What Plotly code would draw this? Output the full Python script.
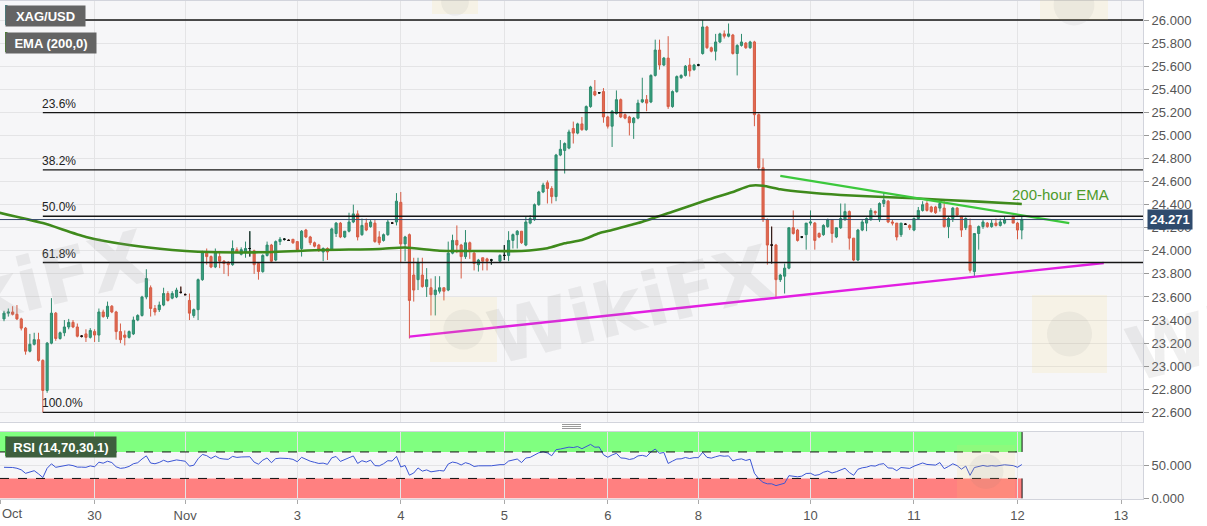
import plotly.graph_objects as go


# ---------- DATA (hourly XAG/USD bars) ----------

opens = [
    23.41, 23.46, 23.47, 23.45, 23.41, 23.33, 23.13, 23.19, 23.23, 23.05,
    22.79, 23.20, 23.46, 23.24, 23.29, 23.34, 23.38, 23.34, 23.26, 23.28,
    23.25, 23.30, 23.27, 23.47, 23.43, 23.52, 23.47, 23.30, 23.27, 23.25,
    23.28, 23.40, 23.44, 23.60, 23.68, 23.50, 23.49, 23.53, 23.63, 23.59,
    23.60, 23.64, 23.62, 23.57, 23.44, 23.49, 23.75, 23.98, 23.95, 23.86,
    23.95, 23.91, 23.90, 23.88, 24.01, 23.97, 23.99, 24.02, 24.00, 23.89,
    23.82, 23.96, 24.05, 23.92, 24.08, 24.10, 24.09, 24.10, 24.08, 24.02,
    24.18, 24.12, 24.07, 24.05, 23.99, 24.02, 24.01, 24.15, 24.24, 24.12,
    24.17, 24.25, 24.32, 24.14, 24.24, 24.21, 24.24, 24.12, 24.09, 24.14,
    24.24, 24.25, 24.42, 24.06, 24.14, 23.79, 23.75, 23.79, 23.69, 23.68,
    23.62, 23.65, 23.68, 23.66, 23.98, 24.09, 24.05, 23.95, 24.07, 23.98,
    23.88, 23.94, 23.93, 23.92, None, 23.91, 23.96, 23.96, 24.09, 24.14,
    24.17, 24.05, 24.24, 24.27, 24.40, 24.51, 24.59, 24.54, 24.47, 24.83,
    24.87, 24.89, 25.06, 25.02, 25.10, 25.05, 25.25, 25.38, 25.37, 25.38,
    25.16, 25.08, 25.19, 25.31, 25.18, 25.16, 25.11, 25.15, 25.29, 25.31,
    25.29, 25.52, 25.74, 25.61, 25.67, 25.25, 25.38, 25.50, 25.52, 25.61,
    25.57, 25.61, 25.71, 25.94, 25.76, 25.73, 25.81, 25.88, 25.86, 25.87,
    25.71, 25.78, 25.80, 25.76, 25.81, 25.18, 24.72, 24.27, 24.05, 24.05,
    23.75, 23.78, 23.85, 24.20, 24.18, 24.12, 24.14, 24.24, 24.24, 24.15,
    24.14, 24.21, 24.27, 24.12, 24.20, 24.27, 24.34, 24.11, 23.92, 24.18,
    24.24, 24.27, 24.34, 24.27, 24.41, 24.43, 24.25, 24.24, 24.14, 24.23,
    24.22, 24.18, 24.28, 24.35, 24.41, 24.38, 24.38, 24.37, 24.37, 24.21,
    24.28, 24.37, 24.30, 24.20, 24.22, 23.82, 24.15, 24.21, 24.24, 24.21,
    24.24, 24.22, 24.24, None, 24.30, 24.24, 24.18,
]

highs = [
    23.48, 23.50, 23.52, 23.53, 23.42, 23.34, 23.28, 23.29, 23.29, 23.06,
    23.21, 23.59, 23.47, 23.30, 23.40, 23.41, 23.40, 23.37, 23.27, 23.32,
    23.33, 23.32, 23.50, 23.49, 23.56, 23.53, 23.48, 23.37, 23.31, 23.31,
    23.43, 23.45, 23.61, 23.84, 23.70, 23.53, 23.56, 23.68, 23.65, 23.65,
    23.68, 23.69, 23.63, 23.63, 23.50, 23.76, 24.00, 24.02, 23.96, 24.02,
    23.99, 23.92, 23.91, 24.09, 24.03, 24.03, 24.08, 24.17, 24.01, 23.90,
    23.97, 24.08, 24.06, 24.09, 24.12, 24.11, 24.10, 24.10, 24.08, 24.18,
    24.19, 24.13, 24.08, 24.06, 24.03, 24.03, 24.20, 24.25, 24.25, 24.17,
    24.33, 24.40, 24.35, 24.28, 24.28, 24.27, 24.27, 24.17, 24.15, 24.27,
    24.25, 24.50, 24.51, 24.13, 24.15, 23.94, 23.94, 23.94, 23.85, 23.76,
    23.78, 23.78, 23.68, 24.08, 24.14, 24.22, 24.06, 24.18, 24.08, 23.99,
    23.93, 23.94, 23.94, 23.93, None, 23.97, 24.05, 24.17, 24.15, 24.18,
    24.17, 24.30, 24.31, 24.41, 24.52, 24.59, 24.61, 24.56, 24.84, 24.96,
    24.94, 25.05, 25.12, 25.11, 25.16, 25.26, 25.43, 25.48, 25.37, 25.41,
    25.17, 25.22, 25.39, 25.32, 25.19, 25.17, 25.16, 25.31, 25.50, 25.35,
    25.53, 25.83, 25.83, 25.68, 25.86, 25.39, 25.52, 25.53, 25.61, 25.67,
    25.62, 25.62, 26.00, 25.95, 25.77, 25.88, 25.89, 25.91, 25.97, 25.88,
    25.79, 25.88, 25.81, 25.82, 25.82, 25.19, 24.80, 24.28, 24.21, 24.06,
    23.80, 23.89, 24.20, 24.35, 24.19, 24.12, 24.24, 24.35, 24.25, 24.16,
    24.23, 24.28, 24.27, 24.20, 24.41, 24.41, 24.35, 24.11, 24.19, 24.27,
    24.29, 24.37, 24.35, 24.42, 24.50, 24.44, 24.27, 24.24, 24.24, 24.24,
    24.23, 24.29, 24.38, 24.43, 24.43, 24.39, 24.39, 24.43, 24.43, 24.30,
    24.38, 24.38, 24.30, 24.29, 24.28, 24.15, 24.22, 24.27, 24.25, 24.27,
    24.28, 24.28, 24.30, None, 24.30, 24.25, 24.30,
]

lows = [
    23.39, 23.43, 23.44, 23.40, 23.31, 23.10, 23.12, 23.18, 23.04, 22.60,
    22.77, 23.19, 23.22, 23.23, 23.26, 23.32, 23.33, 23.25, 23.25, 23.21,
    23.24, 23.21, 23.21, 23.42, 23.41, 23.46, 23.23, 23.20, 23.18, 23.24,
    23.27, 23.39, 23.43, 23.58, 23.43, 23.44, 23.47, 23.52, 23.56, 23.58,
    23.59, 23.63, 23.62, 23.40, 23.42, 23.40, 23.74, 23.88, 23.85, 23.85,
    23.85, 23.80, 23.78, 23.87, 23.98, 23.96, 23.94, 23.95, 23.80, 23.75,
    23.81, 23.95, 23.90, 23.91, 24.05, 24.09, 24.09, 24.06, 23.99, 23.95,
    24.11, 24.05, 24.03, 23.99, 23.91, 23.92, 24.00, 24.12, 24.11, 24.11,
    24.16, 24.24, 24.09, 24.13, 24.17, 24.20, 24.07, 24.05, 24.08, 24.13,
    24.24, 24.22, 23.90, 23.91, 23.24, 23.56, 23.66, 23.68, 23.60, 23.44,
    23.44, 23.63, 23.57, 23.65, 23.97, 23.98, 23.76, 23.93, 23.93, 23.83,
    23.82, 23.83, 23.83, 23.88, None, 23.90, 23.92, 23.91, 24.02, 24.02,
    24.06, 24.04, 24.23, 24.26, 24.39, 24.50, 24.41, 24.41, 24.43, 24.82,
    24.67, 24.88, 24.93, 25.01, 25.04, 25.04, 25.24, 25.34, 25.36, 25.11,
    25.06, 24.90, 25.18, 25.15, 25.14, 25.00, 24.97, 25.14, 25.28, 25.21,
    25.28, 25.51, 25.57, 25.60, 25.23, 25.24, 25.37, 25.49, 25.51, 25.51,
    25.56, 25.60, 25.70, 25.75, 25.72, 25.65, 25.80, 25.84, 25.85, 25.70,
    25.52, 25.77, 25.75, 25.75, 25.08, 24.70, 24.25, 23.88, 23.89, 23.60,
    23.73, 23.63, 23.84, 24.14, 24.08, 24.11, 24.01, 24.22, 24.01, 24.11,
    24.13, 24.20, 24.07, 24.11, 24.19, 24.26, 24.01, 23.91, 23.91, 24.17,
    24.17, 24.26, 24.31, 24.25, 24.38, 24.24, 24.22, 24.09, 24.12, 24.23,
    24.18, 24.17, 24.27, 24.34, 24.34, 24.33, 24.32, 24.34, 24.20, 24.11,
    24.25, 24.30, 24.12, 24.18, 23.81, 23.78, 24.01, 24.19, 24.20, 24.20,
    24.21, 24.21, 24.23, None, 24.24, 24.10, 24.10,
]

closes = [
    23.46, 23.47, 23.45, 23.41, 23.33, 23.13, 23.19, 23.23, 23.05, 22.79,
    23.20, 23.46, 23.24, 23.29, 23.34, 23.38, 23.34, 23.26, 23.26, 23.25,
    23.31, 23.27, 23.47, 23.43, 23.52, 23.47, 23.30, 23.23, 23.25, 23.30,
    23.40, 23.44, 23.60, 23.76, 23.50, 23.47, 23.53, 23.63, 23.57, 23.63,
    23.66, 23.64, 23.62, 23.46, 23.49, 23.75, 23.99, 23.95, 23.86, 23.99,
    23.91, 23.89, 23.88, 24.02, 23.99, 24.01, 24.02, 24.02, 23.88, 23.82,
    23.96, 24.05, 23.91, 24.08, 24.10, 24.10, 24.09, 24.07, 24.01, 24.17,
    24.12, 24.07, 24.04, 24.01, 24.02, 23.99, 24.19, 24.24, 24.12, 24.17,
    24.25, 24.32, 24.12, 24.22, 24.18, 24.25, 24.08, 24.07, 24.14, 24.25,
    24.24, 24.43, 24.06, 24.12, 23.57, 23.66, 23.90, 23.69, 23.75, 23.62,
    23.66, 23.68, 23.65, 23.98, 24.09, 24.05, 23.95, 24.07, 24.01, 23.89,
    23.92, 23.91, 23.91, 23.92, None, 23.96, 23.96, 24.09, 24.14, 24.17,
    24.07, 24.25, 24.28, 24.40, 24.51, 24.57, 24.54, 24.47, 24.83, 24.88,
    24.93, 25.03, 25.02, 25.10, 25.05, 25.25, 25.42, 25.35, 25.37, 25.16,
    25.08, 25.21, 25.31, 25.16, 25.15, 25.11, 25.15, 25.28, 25.31, 25.28,
    25.52, 25.74, 25.61, 25.67, 25.25, 25.38, 25.51, 25.52, 25.60, 25.56,
    25.61, 25.61, 25.94, 25.76, 25.73, 25.81, 25.88, 25.86, 25.88, 25.71,
    25.78, 25.81, 25.76, 25.81, 25.18, 24.72, 24.27, 24.05, 24.05, 23.75,
    23.79, 23.85, 24.20, 24.15, 24.09, 24.12, 24.24, 24.25, 24.09, 24.12,
    24.22, 24.27, 24.15, 24.20, 24.28, 24.34, 24.11, 23.92, 24.18, 24.25,
    24.28, 24.35, 24.33, 24.41, 24.44, 24.25, 24.24, 24.12, 24.24, 24.23,
    24.20, 24.28, 24.35, 24.40, 24.35, 24.34, 24.33, 24.41, 24.21, 24.28,
    24.37, 24.31, 24.18, 24.28, 23.83, 24.15, 24.21, 24.25, 24.21, 24.24,
    24.22, 24.25, 24.27, None, 24.24, 24.18, 24.271,
]

# EMA(200) as drawn on the chart (bar index, price)
ema_bar = [-1, 9, 19, 29, 39, 45, 59, 74, 87, 93, 101, 110, 120, 126, 130,
           134, 138, 141, 147, 155, 163, 169, 173, 176, 180, 186, 194, 211,
           226, 236]
ema_val = [24.33, 24.24, 24.12, 24.05, 24.007, 23.992, 23.987, 24.007,
           24.016, 24.029, 24.001, 23.999, 23.999, 24.022, 24.065, 24.094,
           24.152, 24.18, 24.24, 24.339, 24.44, 24.51, 24.564, 24.564,
           24.533, 24.507, 24.484, 24.455, 24.426, 24.406]

# hand drawn trend lines
resist_bar = [180, 247]
resist_val = [24.65, 24.24]
support_bar = [94, 255]
support_val = [23.256, 23.894]

# fibonacci retracement
fib_pct = [0.0, 23.6, 38.2, 50.0, 61.8, 100.0]
swing_high = 26.0
swing_low = 22.6
swing_bar = 9

last_price = 24.271

day_ticks = [-0.7, 21, 42, 68, 92, 116, 140, 161, 187, 211, 235, 259]
day_labels = ["", "30", "Nov", "3", "4", "5", "6", "8", "10", "11", "12", "13"]
price_ticks = [22.6, 22.8, 23.0, 23.2, 23.4, 23.6, 23.8, 24.0, 24.2, 24.4,
               24.6, 24.8, 25.0, 25.2, 25.4, 25.6, 25.8, 26.0]

rsi_len = 14
rsi_hi = 70
rsi_lo = 30


# ---------- HELPERS ----------

X_RANGE = [-0.93, 264.1]
Y_RANGE = [22.519, 26.165]
RSI_RANGE = [-1, 100.5]
BAND_END = 236.06


def pxx(x):
    # pixel x -> paper x
    return x / 1143.0


def pxy(y):
    # pixel y -> paper y
    return (499.0 - y) / 498.0


def wilder_rsi(values, n):
    pts = [(k, v) for k, v in enumerate(values) if v is not None]
    diffs = [b[1] - a[1] for a, b in zip(pts, pts[1:])]
    gains = [max(d, 0) for d in diffs]
    losses = [max(-d, 0) for d in diffs]
    ag = sum(gains[:n]) / n
    al = sum(losses[:n]) / n
    xs = [pts[0][0]]
    ys = [100 * ag / (ag + al)]
    for (k, _), g, l in zip(pts[1:], gains, losses):
        ag = (ag * (n - 1) + g) / n
        al = (al * (n - 1) + l) / n
        xs.append(k)
        ys.append(100 * ag / (ag + al))
    return xs, ys


bars = list(range(len(opens)))
rsi_x, rsi_y = wilder_rsi(closes, rsi_len)

doji = [k for k in bars if opens[k] is not None and opens[k] == closes[k]]

fig = go.Figure()

# ---------- PRICE PANE ----------

fig.add_trace(go.Candlestick(
    x=bars, open=opens, high=highs, low=lows, close=closes,
    increasing=dict(line=dict(color="#2e8b6e", width=1), fillcolor="#37a07e"),
    decreasing=dict(line=dict(color="#d65c45", width=1), fillcolor="#e06a52"),
    whiskerwidth=0, showlegend=False, hoverinfo="skip",
))

fig.add_trace(go.Candlestick(
    x=doji,
    open=[opens[k] for k in doji], high=[highs[k] for k in doji],
    low=[lows[k] for k in doji], close=[closes[k] for k in doji],
    increasing=dict(line=dict(color="#111111", width=1), fillcolor="#111111"),
    decreasing=dict(line=dict(color="#111111", width=1), fillcolor="#111111"),
    whiskerwidth=0, showlegend=False, hoverinfo="skip",
))

fig.add_trace(go.Scatter(
    x=ema_bar, y=ema_val, mode="lines",
    line=dict(color="#3f8a1c", width=2.6, shape="spline", smoothing=0.6),
    showlegend=False, hoverinfo="skip",
))

fig.add_trace(go.Scatter(
    x=resist_bar, y=resist_val, mode="lines",
    line=dict(color="#3cc83c", width=2.2),
    showlegend=False, hoverinfo="skip",
))

fig.add_trace(go.Scatter(
    x=support_bar, y=support_val, mode="lines",
    line=dict(color="#e21ee2", width=2.4),
    showlegend=False, hoverinfo="skip",
))

# ---------- RSI PANE ----------

fig.add_trace(go.Scatter(
    x=rsi_x, y=rsi_y, mode="lines", xaxis="x2", yaxis="y2",
    line=dict(color="#3b55d4", width=1),
    showlegend=False, hoverinfo="skip",
))

shapes = []
annotations = []

# fib lines + labels
for pct in fib_pct:
    level = swing_high - pct / 100.0 * (swing_high - swing_low)
    shapes.append(dict(type="line", xref="x", yref="y", x0=swing_bar,
                       x1=X_RANGE[1], y0=level, y1=level, layer="above",
                       line=dict(color="#151515", width=1.4)))
    annotations.append(dict(x=swing_bar, y=level, xref="x", yref="y",
                            text=f"{pct:.1f}%", showarrow=False,
                            xanchor="left", yanchor="bottom", xshift=-3,
                            font=dict(size=12, color="#222222")))

# last price line + tag
shapes.append(dict(type="line", xref="x", yref="y", x0=X_RANGE[0],
                   x1=X_RANGE[1], y0=last_price, y1=last_price, layer="above",
                   line=dict(color="#34496a", width=1)))
annotations.append(dict(x=pxx(1147), y=last_price, xref="paper", yref="y",
                        text=f"<b>{last_price:.3f}</b>", showarrow=False,
                        xanchor="left", yanchor="middle", bgcolor="#2f4b6d",
                        borderpad=2, font=dict(size=13, color="white")))

annotations.append(dict(x=244.9, y=24.484, xref="x", yref="y",
                        text="200-hour EMA", showarrow=False,
                        font=dict(size=15, color="#4e9b2c")))

# rsi bands
for y0, y1, col in [(rsi_hi, 100, "#80ff80"), (0, rsi_lo, "#ff8080")]:
    shapes.append(dict(type="rect", xref="x2", yref="y2", x0=X_RANGE[0],
                       x1=BAND_END, y0=y0, y1=y1, fillcolor=col,
                       line=dict(width=0), layer="below"))
    shapes.append(dict(type="line", xref="x2", yref="y2", x0=BAND_END,
                       x1=BAND_END, y0=y0, y1=y1,
                       line=dict(color="#111111", width=1)))
for lvl in [rsi_hi, rsi_lo]:
    shapes.append(dict(type="line", xref="x2", yref="y2", x0=X_RANGE[0],
                       x1=BAND_END, y0=lvl, y1=lvl,
                       line=dict(color="#111111", width=1, dash="dash")))

# pane drag handle
for hy in [424.5, 426.5, 428.5]:
    shapes.append(dict(type="line", xref="paper", yref="paper",
                       x0=pxx(562), x1=pxx(581), y0=pxy(hy), y1=pxy(hy),
                       line=dict(color="#9a9a9a", width=1)))

# watermarks
for x0, y0, x1, y1 in [(430, 297, 497, 362), (1032, 295, 1107, 373),
                       (432, -10, 478, 14), (1040, -10, 1108, 20),
                       (957, 445, 1015, 498)]:
    shapes.append(dict(type="rect", xref="paper", yref="paper",
                       x0=pxx(x0), x1=pxx(x1), y0=pxy(y1), y1=pxy(y0),
                       fillcolor="rgba(250,215,110,0.12)",
                       line=dict(width=0), layer="above"))
    cx, cy = (x0 + x1) / 2, (y0 + y1) / 2
    r = (x1 - x0) * 0.3
    shapes.append(dict(type="circle", xref="paper", yref="paper",
                       x0=pxx(cx - r), x1=pxx(cx + r),
                       y0=pxy(cy + r), y1=pxy(cy - r),
                       fillcolor="rgba(120,120,120,0.08)",
                       line=dict(width=0), layer="above"))

for wx, wy in [(5, 290), (630, 305), (1268, 322)]:
    annotations.append(dict(x=pxx(wx), y=pxy(wy), xref="paper", yref="paper",
                            text="<b>WikiFX</b>", showarrow=False,
                            xanchor="center", yanchor="middle",
                            textangle=-14,
                            font=dict(size=74, color="rgba(150,150,150,0.15)",
                                      family="Arial Black, DejaVu Sans")))

# study tags top left
tags = [
    ("XAG/USD", 5, 5, 79, "#646464", "#3a8f8f"),
    ("EMA (200,0)", 5, 32, 90, "#646464", "#3f8a1c"),
    ("RSI (14,70,30,1)", 5, 436, 110, "#3e5f3e", "#2fdc2f"),
]
for text, tx, ty, tw, bg, stripe in tags:
    annotations.append(dict(x=pxx(tx), y=pxy(ty), xref="paper", yref="paper",
                            text=f"<b>{text}</b>", showarrow=False,
                            xanchor="left", yanchor="top", width=tw, height=20,
                            bgcolor=bg, borderpad=0,
                            font=dict(size=13, color="white")))
    shapes.append(dict(type="rect", xref="paper", yref="paper",
                       x0=pxx(tx), x1=pxx(tx + 2.5), y0=pxy(ty + 20),
                       y1=pxy(ty), fillcolor=stripe, line=dict(width=0),
                       layer="above"))

annotations.append(dict(x=pxx(0), y=pxy(513), xref="paper", yref="paper",
                        text="Oct", showarrow=False, xanchor="left",
                        yanchor="middle",
                        font=dict(size=13, color="#555555")))

axis_line = "#d2d4dc"
grid = "#e4e4e6"

fig.update_layout(
    width=1207, height=526,
    margin=dict(l=0, r=64, t=1, b=27),
    paper_bgcolor="white",
    plot_bgcolor="#f6f6f8",
    font=dict(family="Arial, Liberation Sans, sans-serif", color="#555555"),
    hovermode=False,
    showlegend=False,
    shapes=shapes,
    annotations=annotations,
    xaxis=dict(
        domain=[0, 1], anchor="y", range=X_RANGE, tickvals=day_ticks,
        showticklabels=False, ticks="", showgrid=True, gridcolor=grid,
        zeroline=False, showline=True, linecolor=axis_line, mirror=True,
        rangeslider=dict(visible=False),
    ),
    xaxis2=dict(
        domain=[0, 1], anchor="y2", matches="x", range=X_RANGE,
        tickvals=day_ticks, ticktext=day_labels, ticks="outside", ticklen=4,
        tickcolor="#aaaaaa", tickfont=dict(size=13, color="#555555"),
        showgrid=True, gridcolor=grid, zeroline=False, showline=True,
        linecolor=axis_line, mirror=True,
    ),
    yaxis=dict(
        domain=[0.1552, 1], anchor="x", range=Y_RANGE, side="right",
        tickvals=price_ticks, ticktext=[f"{v:.3f}" for v in price_ticks],
        ticks="outside", ticklen=5, tickcolor="#999999",
        tickfont=dict(size=13, color="#555555"), showgrid=True,
        gridcolor=grid, zeroline=False, showline=True, linecolor=axis_line,
        mirror=True,
    ),
    yaxis2=dict(
        domain=[0, 0.1351], anchor="x2", range=RSI_RANGE, side="right",
        tickvals=[0, 50], ticktext=["0.000", "50.000"],
        ticks="outside", ticklen=5, tickcolor="#999999",
        tickfont=dict(size=13, color="#555555"), showgrid=True,
        gridcolor=grid, zeroline=False, showline=True, linecolor=axis_line,
        mirror=True,
    ),
)

# drop the page's default body margin so the 1207x526 figure fills the window
fig.write_html("out.html",
               config={"displayModeBar": False},
               post_script="document.body.style.margin='0';"
                           "document.body.style.overflow='hidden';")
